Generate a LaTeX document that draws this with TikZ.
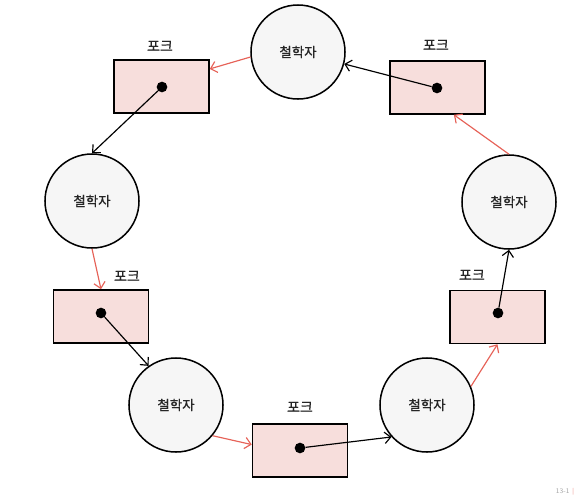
\documentclass[tikz,border=0pt]{standalone}
\usepackage{fontspec}
\newfontfamily\kr{Noto Sans CJK KR}[FakeBold=0.6]
\usetikzlibrary{arrows.meta}
\definecolor{forkpink}{RGB}{247,222,220}
\definecolor{wantred}{RGB}{230,98,88}
\definecolor{philgray}{RGB}{246,246,246}

\begin{document}
\begin{tikzpicture}[x=0.03cm,y=-0.03cm,
	phil/.style={circle,draw,line width=1.3pt,fill=philgray,minimum size=2.82cm,font=\kr\fontsize{11.5}{13}\selectfont,text=black!85},
	fork/.style={draw,line width=1.3pt,fill=forkpink,minimum width=2.85cm,minimum height=1.59cm},
	forklabel/.style={font=\kr\fontsize{12}{14}\selectfont,text=black!85},
	dot/.style={circle,fill=black,inner sep=0pt,minimum size=0.32cm},
	hold/.style={-{Straight Barb[length=1.8mm,width=3.4mm]},line width=1pt},
	want/.style={-{Straight Barb[length=1.8mm,width=3.4mm]},line width=1pt,draw=wantred}]
		\useasboundingbox (0,0) rectangle (582,499);
		\node[phil] (p1) at (298,52) {철학자};
		\node[phil] (p2) at (92,201) {철학자};
		\node[phil] (p3) at (176,405) {철학자};
		\node[phil] (p4) at (427,405) {철학자};
		\node[phil] (p5) at (509,202) {철학자};
		\node[fork] (f1) at (161.5,86.5) {};
		\node[fork] (f2) at (437.5,87.5) {};
		\node[fork] (f3) at (101,316.5) {};
		\node[fork] (f4) at (300,450.5) {};
		\node[fork] (f5) at (497.5,317) {};
		\node[forklabel] (l1) at (160,46) {포크};
		\node[forklabel] (l2) at (436,45) {포크};
		\node[forklabel] (l3) at (127,276) {포크};
		\node[forklabel] (l4) at (300,407) {포크};
		\node[forklabel] (l5) at (472,275) {포크};
		\node[dot] (d1) at (162,87) {};
		\node[dot] (d2) at (437,88) {};
		\node[dot] (d3) at (101,313) {};
		\node[dot] (d4) at (300,448) {};
		\node[dot] (d5) at (498,313) {};
		\draw[hold] (d2) -- (p1);
		\draw[hold] (d1) -- (p2.north);
		\draw[hold] (d3) -- (p3.125);
		\draw[hold] (d4) -- (p4.222);
		\draw[hold] (d5) -- (p5.south);
		\draw[want] (p1.186) -- (f1.20);
		\draw[want] (p2.south) -- (f3.north);
		\draw[want] (p3.-40) -- (f4.173);
		\draw[want] (p4.23) -- (f5.south);
		\draw[want] (p5.north) -- (f2.-59);
		\node[font=\sffamily\fontsize{6}{7}\selectfont,text=gray!70,inner sep=1pt] (fig) at (565,492) {13-1 \textcolor{wantred}{|}};
	\end{tikzpicture}
\end{document}
